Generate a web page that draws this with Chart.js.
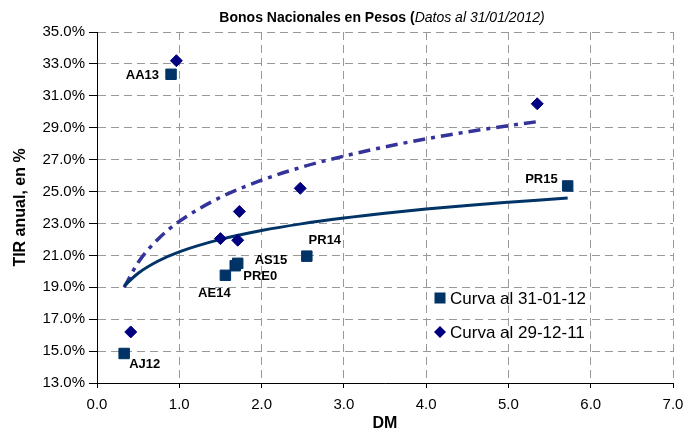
<!DOCTYPE html>
<html>
<head>
<meta charset="utf-8">
<script src="https://cdn.jsdelivr.net/npm/chart.js@4.4.1/dist/chart.umd.min.js"></script>
<style>
  html, body { margin: 0; padding: 0; background: #fff; }
</style>
</head>
<body>
<canvas id="tir-chart" width="700" height="432"></canvas>
<script>
// bonos y valores al 31-01-12
const bonos = ['AJ12', 'AA13', 'AE14', 'PRE0', 'AS15', 'PR14', 'PR15'];
const dm31 = [0.33, 0.90, 1.56, 1.68, 1.71, 2.55, 5.72];
const tir31 = [14.85, 32.35, 19.75, 20.35, 20.5, 20.95, 25.35];

// valores al 29-12-11
const dm29 = [0.41, 0.965, 1.50, 1.71, 1.73, 2.47, 5.35];
const tir29 = [16.2, 33.2, 22.05, 21.95, 23.75, 25.2, 30.5];

// curvas
const dmCurva31 = [0.33, 0.5, 0.75, 1.0, 1.5, 2.0, 2.5, 3.0, 3.5, 4.0, 4.5, 5.0, 5.35, 5.72];
const tirCurva31 = [19.08, 19.88, 20.66, 21.22, 22.0, 22.56, 22.99, 23.34, 23.64, 23.9, 24.13, 24.33, 24.46, 24.59];
const dmCurva29 = [0.33, 0.5, 0.75, 1.0, 1.5, 2.0, 2.5, 3.0, 3.5, 4.0, 4.5, 5.0, 5.35];
const tirCurva29 = [19.0, 20.55, 22.06, 23.13, 24.64, 25.71, 26.55, 27.22, 27.8, 28.3, 28.74, 29.13, 29.38];

const legendLabels = ['Curva al 31-01-12', 'Curva al 29-12-11'];

// posicion de etiquetas respecto del punto: dx, dy, align
const labelPos = [
  [5, 11, 'left'],
  [-12, 1, 'right'],
  [-11, 18, 'center'],
  [8, 11, 'left'],
  [17, -3, 'left'],
  [18, -16, 'center'],
  [-10, -7, 'right']
];

const COL_SQ = '#003366';
const COL_DIA = '#000080';

const toPoints = (xs, ys) => xs.map((x, i) => ({ x: x, y: ys[i] }));

const extras = {
  id: 'extras',
  afterDatasetsDraw(chart) {
    const ctx = chart.ctx;
    const area = chart.chartArea;
    ctx.save();

    // etiquetas de los bonos
    ctx.font = 'bold 13px Arial';
    ctx.fillStyle = '#000';
    ctx.textBaseline = 'middle';
    chart.getDatasetMeta(0).data.forEach((pt, i) => {
      const p = labelPos[i];
      ctx.textAlign = p[2];
      ctx.fillText(bonos[i], pt.x + p[0], pt.y + p[1]);
    });

    // leyenda
    const lx = area.left + 343;
    const ly = area.top + 266;
    ctx.font = '17px Arial';
    ctx.textAlign = 'left';
    ctx.fillStyle = COL_SQ;
    ctx.fillRect(lx - 5.5, ly - 5.5, 11, 11);
    ctx.fillStyle = COL_DIA;
    ctx.beginPath();
    ctx.moveTo(lx - 6, ly + 34);
    ctx.lineTo(lx, ly + 28);
    ctx.lineTo(lx + 6, ly + 34);
    ctx.lineTo(lx, ly + 40);
    ctx.closePath();
    ctx.fill();
    ctx.fillStyle = '#000';
    ctx.fillText(legendLabels[0], lx + 10, ly + 1);
    ctx.fillText(legendLabels[1], lx + 10, ly + 35);

    // titulo con parte en cursiva
    const t1 = 'Bonos Nacionales en Pesos (';
    const t2 = 'Datos al 31/01/2012)';
    ctx.textBaseline = 'alphabetic';
    ctx.font = 'bold 14px Arial';
    const w1 = ctx.measureText(t1).width;
    ctx.font = 'italic 14px Arial';
    const w2 = ctx.measureText(t2).width;
    const x0 = 382 - (w1 + w2) / 2;
    ctx.font = 'bold 14px Arial';
    ctx.fillText(t1, x0, 21.5);
    ctx.font = 'italic 14px Arial';
    ctx.fillText(t2, x0 + w1, 21.5);

    ctx.restore();
  }
};

const ctx = document.getElementById('tir-chart');
new Chart(ctx, {
  type: 'scatter',
  data: {
    datasets: [
      {
        label: legendLabels[0],
        data: toPoints(dm31, tir31),
        pointStyle: 'rect',
        pointRadius: 7.4,
        pointBackgroundColor: COL_SQ,
        pointBorderColor: COL_SQ,
        pointBorderWidth: 1
      },
      {
        label: legendLabels[1],
        data: toPoints(dm29, tir29),
        pointStyle: 'rectRot',
        pointRadius: 6,
        pointBackgroundColor: COL_DIA,
        pointBorderColor: COL_DIA,
        pointBorderWidth: 1
      },
      {
        label: 'tendencia 31-01-12',
        data: toPoints(dmCurva31, tirCurva31),
        showLine: true,
        pointRadius: 0,
        borderColor: COL_SQ,
        borderWidth: 3,
        cubicInterpolationMode: 'monotone'
      },
      {
        label: 'tendencia 29-12-11',
        data: toPoints(dmCurva29, tirCurva29),
        showLine: true,
        pointRadius: 0,
        borderColor: '#333399',
        borderWidth: 3.5,
        borderDash: [12, 6, 4, 6],
        cubicInterpolationMode: 'monotone'
      }
    ]
  },
  options: {
    responsive: false,
    animation: false,
    devicePixelRatio: 1,
    layout: { padding: { top: 32, right: 27, left: 0, bottom: 0 } },
    plugins: {
      legend: { display: false },
      tooltip: { enabled: false },
      title: { display: false }
    },
    scales: {
      x: {
        type: 'linear',
        min: 0,
        max: 7,
        afterFit: (scale) => { scale.height = 49; },
        ticks: {
          stepSize: 1,
          padding: 8,
          color: '#000',
          font: { family: 'Arial', size: 15 },
          callback: (v) => v.toFixed(1)
        },
        grid: {
          color: '#999',
          tickLength: 5,
          tickColor: '#000',
          tickBorderDash: []
        },
        border: { color: '#000', width: 1, dash: [8, 5] },
        title: {
          display: true,
          text: 'DM',
          color: '#000',
          font: { family: 'Arial', size: 16, weight: 'bold', lineHeight: 1 },
          padding: { top: 0, bottom: 0 }
        }
      },
      y: {
        min: 13,
        max: 35,
        afterFit: (scale) => { scale.width = 97; },
        ticks: {
          stepSize: 2,
          padding: 4,
          color: '#000',
          font: { family: 'Arial', size: 15 },
          callback: (v) => v.toFixed(1) + '%'
        },
        grid: {
          color: '#999',
          tickLength: 8,
          tickColor: '#000',
          tickBorderDash: []
        },
        border: { color: '#000', width: 1, dash: [8, 5] },
        title: {
          display: true,
          text: 'TIR anual, en %',
          color: '#000',
          font: { family: 'Arial', size: 16, weight: 'bold', lineHeight: 1 },
          padding: { top: 13, bottom: 0 }
        }
      }
    }
  },
  plugins: [extras]
});
</script>
</body>
</html>
